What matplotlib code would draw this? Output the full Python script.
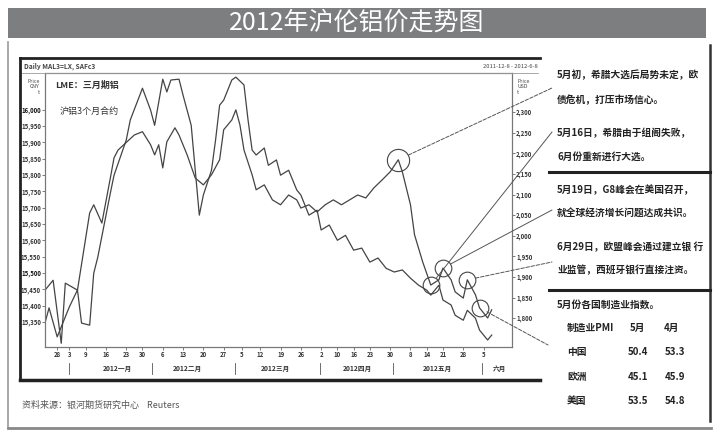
import matplotlib
matplotlib.use("Agg")
import matplotlib.pyplot as plt
from matplotlib.patches import Rectangle, ConnectionPatch
from matplotlib.lines import Line2D

plt.rcParams['font.family'] = ['Noto Sans CJK SC', 'DejaVu Sans']

# ---- data (trading-day index from late Dec 2011) ----
# LME 3-month aluminium, USD/t (right axis)
u_idx = [0, 2, 4, 5, 8, 9, 11, 12, 13, 16, 17, 20, 21, 24, 26, 27, 29, 30, 31, 33,
         34, 36, 37, 38, 39, 41, 42, 43, 44, 46, 47, 49, 50, 51, 52, 54, 55, 57, 58, 60,
         62, 63, 65, 67, 68, 70, 72, 74, 76, 78, 80, 82, 84, 86, 88, 90, 92, 94, 95, 97,
         98, 100, 101, 103, 104, 106, 107, 109, 110]
u_val = [1868, 1892, 1739, 1885, 1868, 1788, 1783, 1909, 1948, 2099, 2147, 2232, 2281, 2358, 2305,
         2268, 2380, 2349, 2378, 2380, 2341, 2268, 2159, 2050, 2099, 2159, 2232, 2317, 2329, 2378,
         2385, 2366, 2281, 2208, 2196, 2213, 2171, 2184, 2147, 2159, 2111, 2099, 2050, 2062, 2014,
         2026, 1989, 2001, 1965, 1970, 1936, 1946, 1921, 1912, 1917, 1897, 1880, 1868, 1856, 1880,
         1844, 1832, 1807, 1795, 1819, 1800, 1771, 1747, 1759]

# SHFE aluminium 3-month contract, CNY/t (left axis)
l_idx = [0, 1, 3, 6, 8, 11, 12, 14, 16, 17, 18, 22, 24, 26, 27, 28, 29, 30, 32, 33,
         35, 37, 39, 41, 43, 44, 46, 47, 48, 49, 51, 52, 54, 56, 58, 60, 62, 63, 65, 67,
         69, 71, 73, 75, 77, 79, 81, 83, 85, 87, 88, 90, 91, 93, 95, 97, 98, 100, 101, 103,
         104, 106, 107, 109, 110]
l_val = [15347, 15393, 15304, 15396, 15448, 15684, 15709, 15653, 15785, 15853, 15877, 15923, 15933,
         15893, 15862, 15893, 15822, 15902, 15945, 15923, 15862, 15791, 15770, 15801, 15847, 15939,
         15969, 16000, 15954, 15877, 15801, 15755, 15770, 15724, 15709, 15739, 15724, 15699, 15709,
         15687, 15709, 15724, 15709, 15724, 15739, 15730, 15761, 15785, 15810, 15847, 15810, 15709,
         15617, 15534, 15463, 15479, 15515, 15479, 15442, 15423, 15479, 15433, 15393, 15362, 15387]

left_ticks = [15350, 15400, 15450, 15500, 15550, 15600, 15650, 15700, 15750, 15800,
              15850, 15900, 15950, 16000]
right_ticks = [1800, 1850, 1900, 1950, 2000, 2050, 2100, 2150, 2200, 2250, 2300]

tick_idx = [3, 6, 10, 15, 20, 24, 29, 34, 39, 44, 48.5, 53, 58, 63, 68, 72, 76, 80,
            85, 90, 94, 98, 103, 108]
tick_lbl = ['28', '3', '9', '16', '23', '30', '6', '13', '20', '27', '5', '12', '19', '26',
            '2', '10', '16', '23', '30', '8', '14', '21', '28', '5']
month_idx = [17.7, 35, 56.7, 76.8, 96.6, 112]
month_lbl = ['2012一月', '2012二月', '2012三月', '2012四月', '2012五月', '六月']
month_sep = [6, 26.4, 46.8, 67.7, 85.7, 107.6]

circle_idx = [87, 95, 98, 104, 107]

notes = [
    ["5月初，希腊大选后局势未定，欧", "债危机，打压市场信心。"],
    ["5月16日，希腊由于组阁失败，", "6月份重新进行大选。"],
    ["5月19日，G8峰会在美国召开，", "就全球经济增长问题达成共识。"],
    ["6月29日，欧盟峰会通过建立银 行", "业监管，西班牙银行直接注资。"],
]
pmi_title = "5月份各国制造业指数。"
pmi_head = ["制造业PMI", "5月", "4月"]
pmi_rows = ["中国", "欧洲", "美国"]
pmi_may = ["50.4", "45.1", "53.5"]
pmi_apr = ["53.3", "45.9", "54.8"]

W, H = 714, 432
fig = plt.figure(figsize=(W / 100, H / 100), dpi=100)


def fx(px):
    return px / W


def fy(py):
    return 1 - py / H


def hline(x0, x1, y, **kw):
    fig.add_artist(Line2D([fx(x0), fx(x1)], [fy(y), fy(y)], transform=fig.transFigure, **kw))


def vline(x, y0, y1, **kw):
    fig.add_artist(Line2D([fx(x), fx(x)], [fy(y0), fy(y1)], transform=fig.transFigure, **kw))


# title bar
fig.add_artist(Rectangle((fx(8), fy(38)), (706 - 8) / W, 30 / H, transform=fig.transFigure,
                         facecolor='#7d7e80', edgecolor='none'))
fig.text(0.5, fy(23), "2012年沪伦铝价走势图", color='white', fontsize=18,
         ha='center', va='center')

# outer frame and panel rules
vline(8, 42, 428, color='#999999', lw=1.2)
hline(8, 711, 428, color='#888888', lw=2)
vline(710, 45, 421, color='#333333', lw=1.8)
hline(20, 540, 58, color='#222222', lw=2)
vline(20, 58, 380, color='#222222', lw=2)
hline(20, 540, 380, color='#222222', lw=2.5)
hline(549, 710, 172, color='#222222', lw=2.2)
hline(549, 710, 290, color='#222222', lw=2.2)
hline(22, 538, 73, color='#999999', lw=0.6)

# chart
ax = fig.add_axes([fx(45), fy(347), (512 - 45) / W, (347 - 73) / H])
ax2 = ax.twinx()
ax.plot(l_idx, l_val, color='#444444', lw=0.9)
ax2.plot(u_idx, u_val, color='#444444', lw=0.9)
ax.set_xlim(0, 115)
ax.set_ylim(15273, 16113)
ax2.set_ylim(1730, 2395)

for a in (ax, ax2):
    for s in a.spines.values():
        s.set_color('#777777')
        s.set_linewidth(0.8)
    a.tick_params(labelsize=4.3, length=2, width=0.6, color='#666666',
                  labelcolor='#333333', pad=1)

ax.set_yticks(left_ticks)
ax.set_yticklabels([f"{v:,}" for v in left_ticks], fontweight='bold')
for t, v in zip(ax.get_yticklabels(), left_ticks):
    if v % 500 == 0:
        t.set_color('#111111')
ax2.set_yticks(right_ticks)
ax2.set_yticklabels([f"{v:,}" for v in right_ticks], fontweight='bold')

ax.set_xticks(tick_idx)
ax.set_xticklabels(tick_lbl, fontweight='bold')
xt = ax.get_xaxis_transform()
for i, lbl in zip(month_idx, month_lbl):
    ax.text(i, -0.065, lbl, transform=xt, ha='center', va='top', fontsize=4.8,
            fontweight='bold', color='#333333', clip_on=False)
for i in month_sep:
    ax.plot([i, i], [-0.06, -0.1], transform=xt, color='#555555', lw=0.6, clip_on=False)

# highlight circles
circ_val = [l_val[l_idx.index(i)] for i in circle_idx]
ax.plot(circle_idx[:1], circ_val[:1], 'o', mfc='none', mec='#444444', mew=0.8, ms=16)
ax.plot(circle_idx[1:], circ_val[1:], 'o', mfc='none', mec='#444444', mew=0.8, ms=12)

# header texts inside chart frame
fig.text(fx(24), fy(66), "Daily MAL3=LX, SAFc3", fontsize=4.8, fontweight='bold',
         color='#444444', va='center')
fig.text(fx(538), fy(66), "2011-12-8 - 2012-6-8", fontsize=4.2, color='#444444',
         va='center', ha='right')
fig.text(fx(40), fy(87), "Price\nCNY\nt", fontsize=3.8, color='#444444', va='center',
         ha='right', linespacing=1.1)
fig.text(fx(517), fy(87), "Price\nUSD\nt", fontsize=3.8, color='#444444', va='center',
         ha='left', linespacing=1.1)
fig.text(fx(55), fy(85), "LME：三月期铝", fontsize=6.5, fontweight='bold', color='#333333',
         va='center')
fig.text(fx(60), fy(111), "沪铝3个月合约", fontsize=6.5, color='#333333', va='center')

# source
fig.text(fx(22), fy(405), "资料来源：银河期货研究中心    Reuters", fontsize=6.5,
         color='#555555', va='center')

# notes panel
note_y = [(75, 100), (133, 157), (190, 213), (247, 270)]
for lines, ys in zip(notes, note_y):
    for txt, y in zip(lines, ys):
        fig.text(fx(557), fy(y), txt, fontsize=7, fontweight='bold', color='#222222',
                 va='center')

fig.text(fx(557), fy(305), pmi_title, fontsize=7, fontweight='bold', color='#222222',
         va='center')
fig.text(fx(567), fy(328), pmi_head[0], fontsize=7, fontweight='bold', color='#222222', va='center')
fig.text(fx(638), fy(328), pmi_head[1], fontsize=7, fontweight='bold', color='#222222',
         va='center', ha='center')
fig.text(fx(672), fy(328), pmi_head[2], fontsize=7, fontweight='bold', color='#222222',
         va='center', ha='center')
for k, (name, a, b) in enumerate(zip(pmi_rows, pmi_may, pmi_apr)):
    y = 352 + k * 24.5
    fig.text(fx(567), fy(y), name, fontsize=7, fontweight='bold', color='#222222', va='center')
    fig.text(fx(648), fy(y), a, fontsize=7, fontweight='bold', color='#222222',
             va='center', ha='right')
    fig.text(fx(685), fy(y), b, fontsize=7, fontweight='bold', color='#222222',
             va='center', ha='right')

# connector lines from circles to the notes
targets = [(552, 88, '--'), (552, 132, '-'), (552, 210, '-'), (552, 262, '--'), (548, 345, '--')]
for k, (i, v) in enumerate(zip(circle_idx, circ_val)):
    px, py, ls = targets[k]
    con = ConnectionPatch(xyA=(i, v), coordsA=ax.transData,
                          xyB=(fx(px), fy(py)), coordsB=fig.transFigure,
                          color='#555555', lw=0.7, linestyle=ls,
                          shrinkA=8 if k == 0 else 6, shrinkB=0)
    fig.add_artist(con)

fig.savefig("out.png", dpi=100)
